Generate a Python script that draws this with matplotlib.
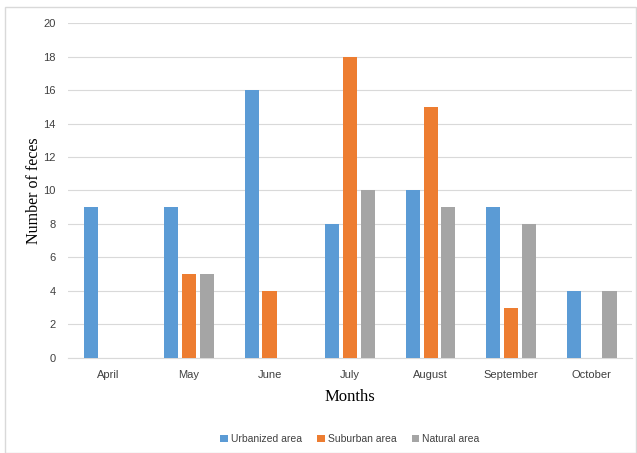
import matplotlib
matplotlib.use('Agg')
import matplotlib.pyplot as plt
import numpy as np
from matplotlib.patches import Rectangle

months = ['April', 'May', 'June', 'July', 'August', 'September', 'October']
urbanized = [9, 9, 16, 8, 10, 9, 4]
suburban = [0, 5, 4, 18, 15, 3, 0]
natural = [0, 5, 0, 10, 9, 8, 4]

fig = plt.figure(figsize=(6.37, 4.53), dpi=100)
ax = fig.add_axes([0.107, 0.21, 0.885, 0.739])

# light frame around chart area
fig.patches.append(Rectangle((0.008, 0.0), 0.99, 0.985, transform=fig.transFigure,
                             fill=False, edgecolor='#D9D9D9', linewidth=1))

x = np.arange(len(months))
w = 0.175
off = 0.222
ax.bar(x - off, urbanized, w, color='#5B9BD5', label='Urbanized area', zorder=3)
ax.bar(x, suburban, w, color='#ED7D31', label='Suburban area', zorder=3)
ax.bar(x + off, natural, w, color='#A5A5A5', label='Natural area', zorder=3)

ax.set_xlim(-0.5, len(months) - 0.5)
ax.set_ylim(0, 20)
ax.set_yticks(range(0, 21, 2))
ax.set_xticks(x)
ax.set_xticklabels(months)
ax.grid(axis='y', color='#D9D9D9', linewidth=0.8, zorder=0)
for s in ['top', 'right', 'left']:
    ax.spines[s].set_visible(False)
ax.spines['bottom'].set_color('#D9D9D9')
ax.tick_params(length=0, labelsize=8, colors='#404040', pad=9)
for lab in ax.get_xticklabels() + ax.get_yticklabels():
    lab.set_family('Liberation Sans')

ax.set_xlabel('Months', family='Liberation Serif', fontsize=12, labelpad=6)
ax.set_ylabel('Number of feces', family='Liberation Serif', fontsize=11.5, labelpad=1)

ax.legend(loc='upper center', bbox_to_anchor=(0.5, -0.2), ncol=3, frameon=False,
          prop={'family': 'Liberation Sans', 'size': 7.5}, handlelength=0.7,
          handleheight=0.7, columnspacing=1.5, handletextpad=0.3, labelcolor='#404040')

fig.savefig('out.png', dpi=100)
